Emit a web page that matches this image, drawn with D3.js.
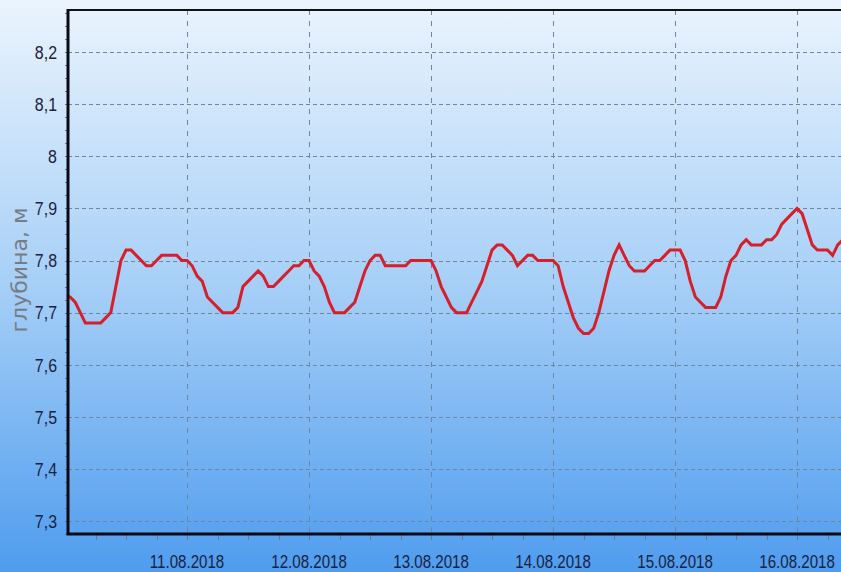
<!DOCTYPE html>
<html>
<head>
<meta charset="utf-8">
<script src="https://cdn.jsdelivr.net/npm/d3@7"></script>
<style>
  body { margin: 0; padding: 0; overflow: hidden; }
  svg { display: block; }
  .tick-label { font-family: "Liberation Sans", Arial, sans-serif; fill: #1b2140; }
</style>
</head>
<body>
<div id="chart"></div>
<script>
// hourly depth readings starting 10.08.2018 00:00
var startTime = new Date(2018, 7, 10, 0, 0);
var depth = [
    // 10.08
    7.73, 7.73, 7.72, 7.70, 7.68, 7.68, 7.68, 7.68, 7.69, 7.70, 7.75, 7.80,
    7.82, 7.82, 7.81, 7.80, 7.79, 7.79, 7.80, 7.81, 7.81, 7.81, 7.81, 7.80,
    // 11.08
    7.80, 7.79, 7.77, 7.76, 7.73, 7.72, 7.71, 7.70, 7.70, 7.70, 7.71, 7.75,
    7.76, 7.77, 7.78, 7.77, 7.75, 7.75, 7.76, 7.77, 7.78, 7.79, 7.79, 7.80,
    // 12.08
    7.80, 7.78, 7.77, 7.75, 7.72, 7.70, 7.70, 7.70, 7.71, 7.72, 7.75, 7.78,
    7.80, 7.81, 7.81, 7.79, 7.79, 7.79, 7.79, 7.79, 7.80, 7.80, 7.80, 7.80,
    // 13.08
    7.80, 7.78, 7.75, 7.73, 7.71, 7.70, 7.70, 7.70, 7.72, 7.74, 7.76, 7.79,
    7.82, 7.83, 7.83, 7.82, 7.81, 7.79, 7.80, 7.81, 7.81, 7.80, 7.80, 7.80,
    // 14.08
    7.80, 7.79, 7.75, 7.72, 7.69, 7.67, 7.66, 7.66, 7.67, 7.70, 7.74, 7.78,
    7.81, 7.83, 7.81, 7.79, 7.78, 7.78, 7.78, 7.79, 7.80, 7.80, 7.81, 7.82,
    // 15.08
    7.82, 7.82, 7.80, 7.76, 7.73, 7.72, 7.71, 7.71, 7.71, 7.73, 7.77, 7.80,
    7.81, 7.83, 7.84, 7.83, 7.83, 7.83, 7.84, 7.84, 7.85, 7.87, 7.88, 7.89,
    // 16.08
    7.90, 7.89, 7.86, 7.83, 7.82, 7.82, 7.82, 7.81, 7.83, 7.84
];
var yTicks = [7.3, 7.4, 7.5, 7.6, 7.7, 7.8, 7.9, 8.0, 8.1, 8.2];
var xTickDays = [11, 12, 13, 14, 15, 16];
var yTitle = "глубина, м";

var width = 841, height = 572;
var margin = { top: 10, left: 68, bottom: 38 };
var pxPerDay = 122;
var plotRight = 900;
var plotBottom = height - margin.bottom;
var narrow = 0.84;

var data = depth.map(function(v, i) {
    return { time: d3.timeHour.offset(startTime, i), value: v };
});

var domainStart = new Date(2018, 7, 10, 0, 35);
var domainEnd = new Date(domainStart.getTime() + (plotRight - margin.left) / pxPerDay * 864e5);

var x = d3.scaleTime().domain([domainStart, domainEnd]).range([margin.left, plotRight]);
var y = d3.scaleLinear().domain([7.275, 8.281]).range([plotBottom, margin.top]);

var svg = d3.select("#chart").append("svg")
    .attr("width", width)
    .attr("height", height);

var defs = svg.append("defs");
var grad = defs.append("linearGradient")
    .attr("id", "bg")
    .attr("x1", 0).attr("y1", 0).attr("x2", 0).attr("y2", 1);
grad.append("stop").attr("offset", "0%").attr("stop-color", "#ebf4fd");
grad.append("stop").attr("offset", "50%").attr("stop-color", "#a6cff7");
grad.append("stop").attr("offset", "100%").attr("stop-color", "#4f9cee");

defs.append("clipPath").attr("id", "plotClip")
    .append("rect")
    .attr("x", margin.left).attr("y", margin.top)
    .attr("width", plotRight - margin.left).attr("height", plotBottom - margin.top);

svg.append("rect")
    .attr("width", width).attr("height", height)
    .attr("fill", "url(#bg)");

// grid
var dayTimes = xTickDays.map(function(d) { return new Date(2018, 7, d); });

svg.append("g").selectAll("line")
    .data(yTicks)
    .enter().append("line")
    .attr("x1", margin.left).attr("x2", plotRight)
    .attr("y1", function(d) { return Math.round(y(d)) + 0.5; })
    .attr("y2", function(d) { return Math.round(y(d)) + 0.5; })
    .attr("stroke", "#6f869e")
    .attr("stroke-width", 1)
    .attr("stroke-dasharray", "4,3");

svg.append("g").selectAll("line")
    .data(dayTimes)
    .enter().append("line")
    .attr("x1", function(d) { return Math.round(x(d)) + 0.5; })
    .attr("x2", function(d) { return Math.round(x(d)) + 0.5; })
    .attr("y1", margin.top).attr("y2", plotBottom)
    .attr("stroke", "#6f869e")
    .attr("stroke-width", 1)
    .attr("stroke-dasharray", "5,6");

// minor ticks
var minorX = d3.timeHour.every(6).range(domainStart, domainEnd);
svg.append("g").selectAll("line")
    .data(minorX)
    .enter().append("line")
    .attr("x1", function(d) { return Math.round(x(d)) + 0.5; })
    .attr("x2", function(d) { return Math.round(x(d)) + 0.5; })
    .attr("y1", plotBottom).attr("y2", plotBottom + 6)
    .attr("stroke", "#6a7a8c")
    .attr("stroke-width", 1);

var minorY = d3.range(7.275, 8.281, 0.025);
svg.append("g").selectAll("line")
    .data(minorY)
    .enter().append("line")
    .attr("x1", margin.left - 3).attr("x2", margin.left)
    .attr("y1", function(d) { return Math.round(y(d)) + 0.5; })
    .attr("y2", function(d) { return Math.round(y(d)) + 0.5; })
    .attr("stroke", "#6a7a8c")
    .attr("stroke-width", 1);

// series
var line = d3.line()
    .x(function(d) { return x(d.time); })
    .y(function(d) { return y(d.value); });

svg.append("path")
    .datum(data)
    .attr("clip-path", "url(#plotClip)")
    .attr("fill", "none")
    .attr("stroke", "#d51f2a")
    .attr("stroke-width", 3)
    .attr("stroke-linejoin", "miter")
    .attr("d", line);

// frame
svg.append("line")
    .attr("x1", margin.left).attr("x2", plotRight)
    .attr("y1", margin.top).attr("y2", margin.top)
    .attr("stroke", "#111").attr("stroke-width", 2);
svg.append("line")
    .attr("x1", margin.left).attr("x2", margin.left)
    .attr("y1", margin.top - 1).attr("y2", plotBottom)
    .attr("stroke", "#0a0a14").attr("stroke-width", 3);
svg.append("line")
    .attr("x1", margin.left - 1.5).attr("x2", plotRight)
    .attr("y1", plotBottom).attr("y2", plotBottom)
    .attr("stroke", "#0a0a14").attr("stroke-width", 3);

// labels (condensed horizontally like the original narrow font)
var fmtY = function(d) { return d3.format(".1~f")(d).replace(".", ","); };
svg.append("g").selectAll("text")
    .data(yTicks)
    .enter().append("text")
    .attr("class", "tick-label")
    .attr("transform", function(d) {
        return "translate(" + (margin.left - 11) + "," + y(d) + ") scale(" + narrow + ",1)";
    })
    .attr("dy", "0.36em")
    .attr("text-anchor", "end")
    .attr("font-size", "19px")
    .text(fmtY);

svg.append("g").selectAll("text")
    .data(dayTimes)
    .enter().append("text")
    .attr("class", "tick-label")
    .attr("transform", function(d) {
        return "translate(" + x(d) + "," + (plotBottom + 34) + ") scale(" + narrow + ",1)";
    })
    .attr("text-anchor", "middle")
    .attr("font-size", "18px")
    .text(d3.timeFormat("%d.%m.%Y"));

svg.append("text")
    .attr("transform", "translate(27," + 270 + ") rotate(-90)")
    .attr("text-anchor", "middle")
    .attr("font-family", "DejaVu Sans, sans-serif")
    .attr("font-size", "22px")
    .attr("fill", "#767c84")
    .text(yTitle);
</script>
</body>
</html>
